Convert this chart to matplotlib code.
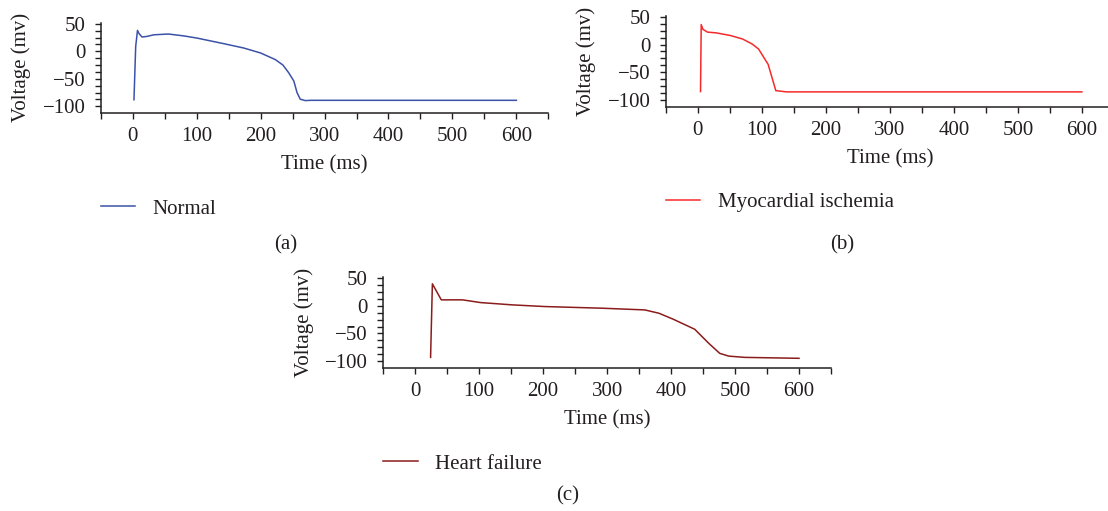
import matplotlib
matplotlib.use("Agg")
import matplotlib.pyplot as plt
from matplotlib.ticker import MultipleLocator

plt.rcParams['font.family'] = ['Liberation Serif', 'DejaVu Serif']
plt.rcParams['font.size'] = 15
TXT = '#231f20'

# action potential traces (time in ms, voltage in mV)
normal_t = [2, 4.7, 7.5, 10, 14.6, 22, 33, 56, 80, 100.7, 142, 173.6, 200, 223,
            235, 244, 252, 257, 262, 270, 278, 400, 600]
normal_v = [-88, 9, 38, 32, 26, 27, 30, 31.4, 28, 24, 14, 6, -3, -15,
            -25, -39, -54, -75, -87, -89.5, -89, -89, -89]

isch_t = [4.4, 5.5, 8.2, 15.3, 29, 51, 70, 85, 95, 110, 122, 138.6, 300, 600]
isch_v = [-84.7, 36, 27.3, 22.4, 21, 16.3, 10, 1, -8, -35.7, -83, -85.3, -85.3, -85.3]

hf_t = [24, 26.8, 40.7, 74, 102, 152, 202.6, 292, 359, 381, 403.5, 437, 459,
        476, 490, 515, 600]
hf_v = [-93.3, 39.7, 10.7, 10.7, 5.8, 1.6, -1.4, -4.4, -7.5, -13.5, -24.4,
        -42.5, -68, -86, -91, -93.3, -95]

panels = [
    # (t, v, colour, legend text, panel tag, axes rect, tag x, tag y)
    (normal_t, normal_v, '#3b52a8', 'Normal', '(a)',
     [0.0909, 0.7789, 0.4040, 0.1767], 0.258, 0.520),
    (isch_t, isch_v, '#f52a2a', 'Myocardial ischemia', '(b)',
     [0.6008, 0.7912, 0.4045, 0.1781], 0.760, 0.520),
    (hf_t, hf_v, '#8b1c1c', 'Heart failure', '(c)',
     [0.3459, 0.2804, 0.4041, 0.1775], 0.512, 0.030),
]

fig = plt.figure(figsize=(11.08, 5.11), dpi=100)

for t, v, col, name, tag, rect, tx, ty in panels:
    ax = fig.add_axes(rect)
    ax.plot(t, v, color=col, lw=1.1, label=name)
    ax.set_xlim(-50, 650)
    ax.set_ylim(-112, 52)
    ax.set_xticks(range(0, 601, 100))
    ax.set_yticks([-100, -50, 0, 50])
    ax.xaxis.set_minor_locator(MultipleLocator(50))
    ax.yaxis.set_minor_locator(MultipleLocator(12.5))
    for s in ['top', 'right']:
        ax.spines[s].set_visible(False)
    for s in ['left', 'bottom']:
        ax.spines[s].set_color(TXT)
        ax.spines[s].set_linewidth(1.1)
    ax.tick_params(which='both', direction='out', length=4, width=1.0,
                   color=TXT, labelcolor=TXT)
    ax.tick_params(axis='x', pad=6)
    ax.tick_params(axis='y', pad=7)
    ax.set_xlabel('Time (ms)', color=TXT)
    ax.set_ylabel('Voltage (mv)', color=TXT, labelpad=8)
    h_px = rect[3] * 511
    ax.xaxis.label.set_va('center')
    ax.xaxis.set_label_coords(0.5, -52 / h_px)
    ax.legend(loc='center left', bbox_to_anchor=(0, -96 / h_px), frameon=False,
              handlelength=1.65, handletextpad=0.85, borderpad=0, borderaxespad=0,
              labelcolor=TXT)
    fig.text(tx, ty, tag, ha='center', va='center', color=TXT)

fig.savefig('out.png', dpi=100)
